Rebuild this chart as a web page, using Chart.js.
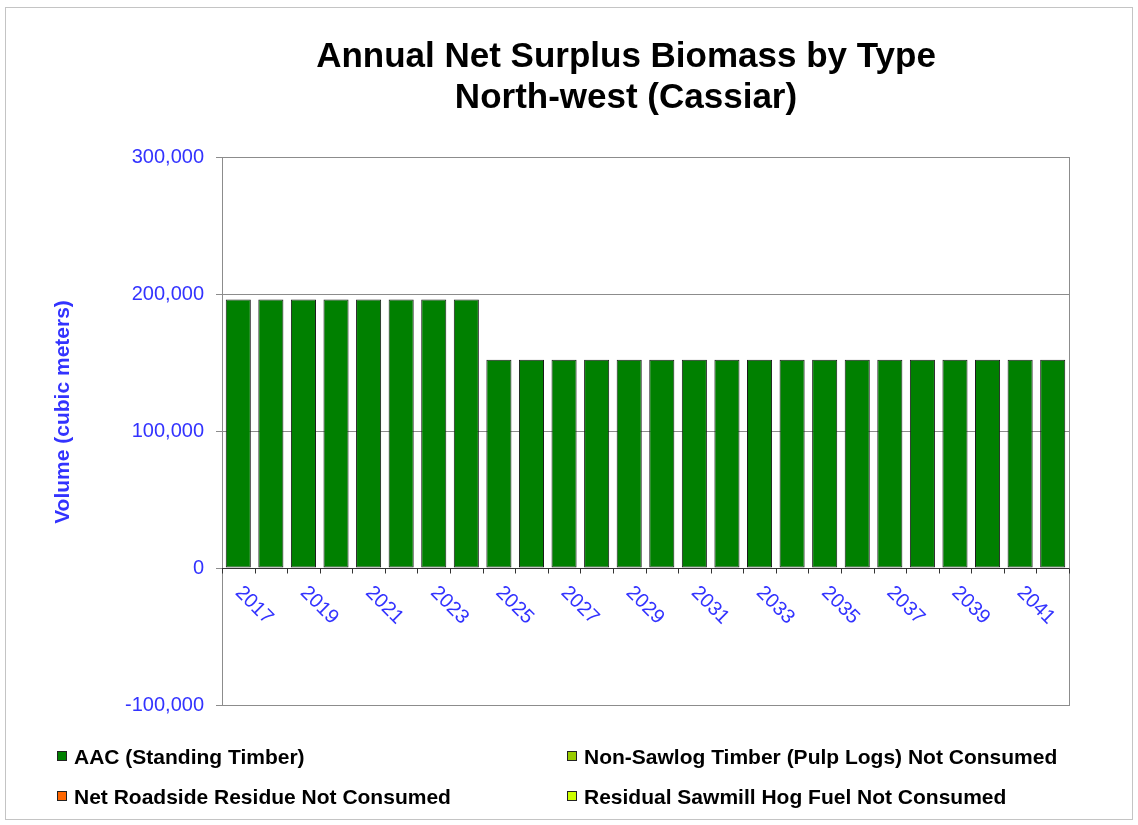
<!DOCTYPE html>
<html><head><meta charset="utf-8">
<style>html,body{margin:0;padding:0;background:#fff;}canvas{display:block;}</style>
<script src="https://cdn.jsdelivr.net/npm/chart.js@4.4.0/dist/chart.umd.min.js"></script>
</head><body>
<canvas id="c" width="1138" height="825"></canvas>
<script>
const titleLines = ["Annual Net Surplus Biomass by Type", "North-west (Cassiar)"];
const yAxisTitle = "Volume (cubic meters)";
const categories = ["2017","2018","2019","2020","2021","2022","2023","2024","2025","2026","2027","2028","2029","2030","2031","2032","2033","2034","2035","2036","2037","2038","2039","2040","2041","2042"];
const xTickLabels = ["2017","2019","2021","2023","2025","2027","2029","2031","2033","2035","2037","2039","2041"];
const yTicks = [-100000, 0, 100000, 200000, 300000];
const aacStanding = [196000,196000,196000,196000,196000,196000,196000,196000,152000,152000,152000,152000,152000,152000,152000,152000,152000,152000,152000,152000,152000,152000,152000,152000,152000,152000];
const nonSawlog = [0,0,0,0,0,0,0,0,0,0,0,0,0,0,0,0,0,0,0,0,0,0,0,0,0,0];
const roadsideResidue = [0,0,0,0,0,0,0,0,0,0,0,0,0,0,0,0,0,0,0,0,0,0,0,0,0,0];
const sawmillHogFuel = [0,0,0,0,0,0,0,0,0,0,0,0,0,0,0,0,0,0,0,0,0,0,0,0,0,0];
const seriesNames = ["AAC (Standing Timber)", "Non-Sawlog Timber (Pulp Logs) Not Consumed", "Net Roadside Residue Not Consumed", "Residual Sawmill Hog Fuel Not Consumed"];
const seriesColors = ["#008000", "#99CC00", "#FF6600", "#CCFF00"];

const FONT = "Arial, 'Liberation Sans', sans-serif";
const BLUE = "#3333FF";

const decor = {
  id: 'decor',
  afterDatasetsDraw(chart) {
    const ctx = chart.ctx, a = chart.chartArea, x = chart.scales.x, y = chart.scales.y;
    ctx.save();
    // plot area frame
    ctx.strokeStyle = '#8c8c8c'; ctx.lineWidth = 1;
    ctx.strokeRect(Math.round(a.left) + 0.5, Math.round(a.top) + 0.5, Math.round(a.right - a.left), Math.round(a.bottom - a.top));
    // zero line + category tick marks
    const zy = Math.round(y.getPixelForValue(0)) + 0.5;
    ctx.strokeStyle = '#333333';
    ctx.beginPath(); ctx.moveTo(a.left, zy); ctx.lineTo(a.right, zy); ctx.stroke();
    const n = categories.length;
    const step = (a.right - a.left) / n;
    ctx.beginPath();
    for (let i = 0; i <= n; i++) {
      const bx = Math.round(i < n ? x.getPixelForValue(i) - step / 2 : x.getPixelForValue(n - 1) + step / 2) + 0.5;
      ctx.moveTo(bx, zy); ctx.lineTo(bx, zy + 5);
    }
    ctx.stroke();
    // x labels rotated 45deg
    ctx.fillStyle = BLUE; ctx.font = "20px " + FONT;
    ctx.textAlign = 'left'; ctx.textBaseline = 'middle';
    categories.forEach((c, i) => {
      if (!xTickLabels.includes(c)) return;
      const cx = x.getPixelForValue(i);
      ctx.save(); ctx.translate(cx, zy + 21); ctx.rotate(Math.PI / 4);
      ctx.fillText(c, 0, 0); ctx.restore();
    });
    ctx.restore();
  },
  afterDraw(chart) {
    const ctx = chart.ctx;
    ctx.save();
    // outer frame
    ctx.strokeStyle = '#c4c4c4'; ctx.lineWidth = 1;
    ctx.strokeRect(5.5, 7.5, 1127, 812);
    // title
    ctx.fillStyle = '#000'; ctx.font = "bold 35px " + FONT;
    ctx.textAlign = 'center'; ctx.textBaseline = 'alphabetic';
    ctx.fillText(titleLines[0], 626, 67);
    ctx.fillText(titleLines[1], 626, 108);
    // y title
    ctx.save(); ctx.translate(63, 412); ctx.rotate(-Math.PI / 2);
    ctx.fillStyle = BLUE; ctx.font = "bold 21px " + FONT;
    ctx.textBaseline = 'middle'; ctx.fillText(yAxisTitle, 0, 0); ctx.restore();
    // legend (2 columns)
    const pos = [[57, 758], [567, 758], [57, 798], [567, 798]];
    ctx.font = "bold 21px " + FONT; ctx.textAlign = 'left'; ctx.textBaseline = 'middle';
    chart.data.datasets.forEach((ds, i) => {
      const [lx, ly] = pos[i];
      ctx.fillStyle = ds.backgroundColor;
      ctx.fillRect(lx, ly - 7, 10, 10);
      ctx.strokeStyle = '#222'; ctx.strokeRect(lx + 0.5, ly - 6.5, 9, 9);
      ctx.fillStyle = '#000';
      ctx.fillText(ds.label, lx + 17, ly);
    });
    ctx.restore();
  }
};

new Chart(document.getElementById('c'), {
  type: 'bar',
  data: {
    labels: categories,
    datasets: [
      { label: seriesNames[0], data: aacStanding, backgroundColor: seriesColors[0] },
      { label: seriesNames[1], data: nonSawlog, backgroundColor: seriesColors[1] },
      { label: seriesNames[2], data: roadsideResidue, backgroundColor: seriesColors[2] },
      { label: seriesNames[3], data: sawmillHogFuel, backgroundColor: seriesColors[3] }
    ].map(d => Object.assign(d, { borderColor: '#1a1a1a', borderWidth: 1, barPercentage: 0.77, categoryPercentage: 1.0, borderSkipped: false }))
  },
  options: {
    responsive: false, animation: false, devicePixelRatio: 1,
    layout: { padding: { left: 0, right: 69, top: 157, bottom: 120 } },
    plugins: { legend: { display: false }, title: { display: false }, tooltip: { enabled: false } },
    scales: {
      x: { stacked: true, display: false },
      y: {
        stacked: true, min: yTicks[0], max: yTicks[yTicks.length - 1],
        afterBuildTicks: s => { s.ticks = yTicks.map(v => ({ value: v })); },
        afterFit: s => { s.width = 222; },
        ticks: { color: BLUE, font: { size: 20, family: FONT }, padding: 12,
          callback: v => v.toLocaleString('en-US') },
        grid: { color: '#8c8c8c', tickLength: 6, tickColor: '#8c8c8c' },
        border: { display: true, color: '#8c8c8c' }
      }
    }
  },
  plugins: [decor]
});
</script>
</body></html>
